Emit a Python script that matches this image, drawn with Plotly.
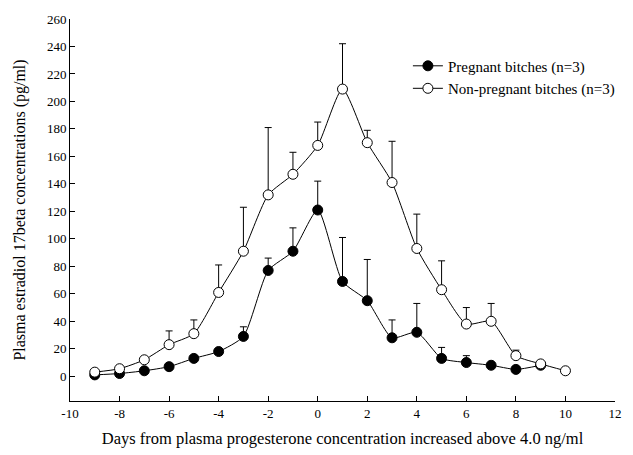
import plotly.graph_objects as go

days_preg = [-9, -8, -7, -6, -5, -4, -3, -2, -1, 0, 1, 2, 3, 4, 5, 6, 7, 8, 9]
preg_mean = [1, 2, 4, 7, 13, 18, 29, 77, 91, 121, 69, 55, 28, 32, 13, 10, 8, 5, 8]
preg_upper = [1, 2, 4, 7, 13, 18, 36, 86, 108, 142, 101, 85, 41, 53, 21, 15, 8, 5, 8]

days_non = [-9, -8, -7, -6, -5, -4, -3, -2, -1, 0, 1, 2, 3, 4, 5, 6, 7, 8, 9, 10]
non_mean = [3, 5.5, 12, 23, 31, 61, 91, 132, 147, 168, 209, 170, 141, 93, 63, 38, 40, 15, 9, 4]
non_upper = [3, 5.5, 12, 33, 41, 81, 123, 181, 163, 185, 242, 179, 171, 118, 84, 50, 53, 19, 9, 4]

x_ticks = [-10, -8, -6, -4, -2, 0, 2, 4, 6, 8, 10, 12]
y_ticks = [0, 20, 40, 60, 80, 100, 120, 140, 160, 180, 200, 220, 240, 260]

FONT = "Liberation Serif, Times New Roman, serif"

fig = go.Figure()

def add_series(x, mean, upper, name, fill):
    fig.add_trace(go.Scatter(
        x=x, y=mean, name=name, mode="lines+markers",
        line=dict(color="black", width=1, shape="spline", smoothing=0.6),
        marker=dict(size=10, color=fill, line=dict(color="black", width=1)),
        error_y=dict(type="data", symmetric=False,
                     array=[u - m for u, m in zip(upper, mean)],
                     arrayminus=[0] * len(mean),
                     color="black", thickness=1, width=3.5),
    ))

add_series(days_preg, preg_mean, preg_upper, "Pregnant bitches (n=3)", "black")
add_series(days_non, non_mean, non_upper, "Non-pregnant bitches (n=3)", "white")

fig.update_layout(
    width=633, height=455,
    margin=dict(l=70, r=18, t=19, b=54, autoexpand=False),
    paper_bgcolor="white", plot_bgcolor="white",
    font=dict(family=FONT, size=13, color="black"),
    showlegend=True,
    legend=dict(x=0.62, y=0.92, xanchor="left", yanchor="top",
                bgcolor="rgba(0,0,0,0)", font=dict(family=FONT, size=15),
                tracegroupgap=0, itemwidth=30),
    xaxis=dict(range=[-10, 12], tickvals=x_ticks, ticktext=[str(v) for v in x_ticks],
               showgrid=False, zeroline=False, showline=True, linecolor="black",
               linewidth=1, ticks="inside", ticklen=5, tickcolor="black",
               automargin=False,
               tickfont=dict(family=FONT, size=13),
               title=dict(text="Days from plasma progesterone concentration increased above 4.0 ng/ml",
                          font=dict(family=FONT, size=16.5), standoff=12)),
    yaxis=dict(range=[-18, 260], tickvals=y_ticks, ticktext=[str(v) for v in y_ticks],
               showgrid=False, zeroline=False, showline=True, linecolor="black",
               linewidth=1, ticks="inside", ticklen=5, tickcolor="black",
               automargin=False,
               tickfont=dict(family=FONT, size=13),
               title=dict(text="Plasma estradiol 17beta concentrations (pg/ml)",
                          font=dict(family=FONT, size=16), standoff=17)),
)

fig.write_html("out.html", config={"displayModeBar": False},
               post_script="document.body.style.margin='0';document.body.style.overflow='hidden';")
